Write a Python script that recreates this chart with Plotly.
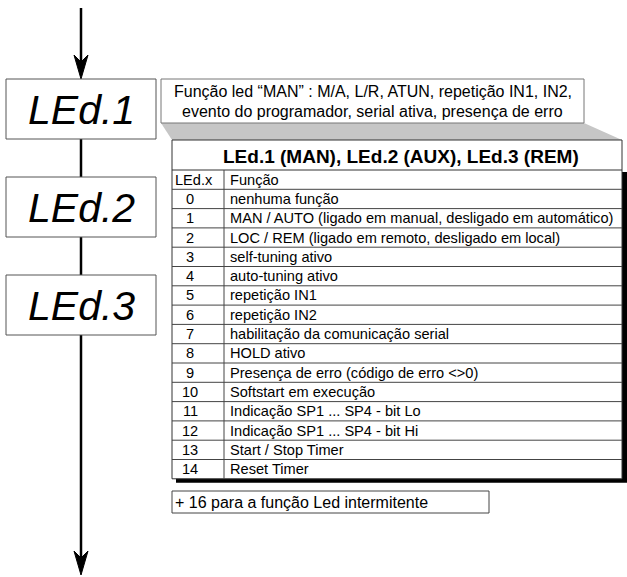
import plotly.graph_objects as go

# ---------------- data ----------------
led_labels = ["LEd.1", "LEd.2", "LEd.3"]
note_lines = [
    "Função led “MAN” : M/A, L/R, ATUN, repetição IN1, IN2,",
    "evento do programador, serial ativa, presença de erro",
]
table_title = "LEd.1 (MAN), LEd.2 (AUX), LEd.3 (REM)"
col_headers = ["LEd.x", "Função"]
codes = ["0", "1", "2", "3", "4", "5", "6", "7", "8", "9", "10", "11", "12", "13", "14"]
functions = [
    "nenhuma função",
    "MAN / AUTO (ligado em manual, desligado em automático)",
    "LOC / REM (ligado em remoto, desligado em local)",
    "self-tuning ativo",
    "auto-tuning ativo",
    "repetição IN1",
    "repetição IN2",
    "habilitação da comunicação serial",
    "HOLD ativo",
    "Presença de erro (código de erro <>0)",
    "Softstart em execução",
    "Indicação SP1 ... SP4 - bit Lo",
    "Indicação SP1 ... SP4 - bit Hi",
    "Start / Stop Timer",
    "Reset Timer",
]
footer_text = "+ 16 para a função Led intermitente"

# ---------------- layout constants ----------------
W, H = 627, 577
FONT = "Liberation Sans, Arial, sans-serif"
AX = 81                     # flow line x
BOX_X0, BOX_X1 = 6, 156
BOX_TOPS = [79, 177, 275]
BOX_H = 60
NOTE = (161, 79, 584, 123)
TBL_X0, TBL_X1 = 172, 622
TBL_TOP, TITLE_BOTTOM = 140, 170
ROW_H = 19.3
COL_SEP = 224
CODE_X = 190
FUNC_X = 228
n_rows = len(codes) + 1
TBL_BOTTOM = TITLE_BOTTOM + ROW_H * n_rows
FOOT = (172, 491, 489, 513)

shapes = []
annotations = []

def line(x0, y0, x1, y1, color="#333", width=1):
    shapes.append(dict(type="line", x0=x0, y0=y0, x1=x1, y1=y1,
                       line=dict(color=color, width=width), layer="above"))

def rect(x0, y0, x1, y1, color="#444", width=1, fill="white"):
    shapes.append(dict(type="rect", x0=x0, y0=y0, x1=x1, y1=y1,
                       line=dict(color=color, width=width), fillcolor=fill, layer="above"))

def text(x, y, s, size=15, anchor="left", bold=False, italic=False, color="black", family=FONT):
    annotations.append(dict(x=x, y=y, xref="x", yref="y", text=s, showarrow=False,
                            xanchor=anchor, yanchor="middle",
                            font=dict(family=family, size=size, color=color,
                                      weight="bold" if bold else "normal",
                                      style="italic" if italic else "normal")))

# flow line and arrows
line(AX, 8, AX, 64, "black", 2.5)
shapes.append(dict(type="path", path=f"M {AX} 79 L {AX-7} 55 L {AX} 62 L {AX+7} 55 Z",
                   fillcolor="black", line=dict(color="black", width=1), layer="above"))
for i in range(len(BOX_TOPS) - 1):
    line(AX, BOX_TOPS[i] + BOX_H, AX, BOX_TOPS[i + 1], "black", 2.5)
line(AX, BOX_TOPS[-1] + BOX_H, AX, 560, "black", 2.5)
shapes.append(dict(type="path", path=f"M {AX} 575 L {AX-7} 551 L {AX} 558 L {AX+7} 551 Z",
                   fillcolor="black", line=dict(color="black", width=1), layer="above"))

# LED display boxes
for top, lab in zip(BOX_TOPS, led_labels):
    rect(BOX_X0, top, BOX_X1, top + BOX_H, "#555", 1)
    text((BOX_X0 + BOX_X1) / 2, top + BOX_H / 2 + 1, lab, size=41, anchor="center",
         italic=True)

# callout connector (grey trapezoid)
shapes.append(dict(type="path",
                   path=f"M {NOTE[0]} {NOTE[3]} L {NOTE[2]} {NOTE[3]} L {TBL_X1} {TBL_TOP} L {TBL_X0} {TBL_TOP} Z",
                   fillcolor="#c6c6c6", line=dict(width=0), layer="above"))
# note box
rect(*NOTE, color="#777", width=1)
text((NOTE[0] + NOTE[2]) / 2, 91, note_lines[0], size=16, anchor="center")
text((NOTE[0] + NOTE[2]) / 2, 111, note_lines[1], size=16, anchor="center")

# table shadow + body
shapes.append(dict(type="rect", x0=TBL_X0 + 4, y0=TITLE_BOTTOM + 2, x1=TBL_X1 + 5, y1=TBL_BOTTOM + 4,
                   fillcolor="black", line=dict(width=0), layer="above"))
rect(TBL_X0, TBL_TOP, TBL_X1, TBL_BOTTOM, "#333", 1)
line(TBL_X0, TITLE_BOTTOM, TBL_X1, TITLE_BOTTOM, "#333", 1)
text((TBL_X0 + TBL_X1) / 2 + 4, (TBL_TOP + TITLE_BOTTOM) / 2 + 1, table_title, size=19,
     anchor="center", bold=True)
for k in range(1, n_rows):
    y = TITLE_BOTTOM + ROW_H * k
    line(TBL_X0, y, TBL_X1, y, "#444", 1)
line(COL_SEP, TITLE_BOTTOM, COL_SEP, TBL_BOTTOM, "#444", 1)

text(TBL_X0 + 1, TITLE_BOTTOM + ROW_H / 2, col_headers[0], size=14.6, anchor="left")
text(FUNC_X, TITLE_BOTTOM + ROW_H / 2, col_headers[1], size=14.6, anchor="left")
for i, (c, f) in enumerate(zip(codes, functions)):
    yc = TITLE_BOTTOM + ROW_H * (i + 1.5)
    text(CODE_X, yc, c, size=14.6, anchor="center")
    text(FUNC_X, yc, f, size=14.6, anchor="left")

# footer note
rect(*FOOT, color="#444", width=1)
text(FOOT[0] + 1, (FOOT[1] + FOOT[3]) / 2, footer_text, size=16, anchor="left")

fig = go.Figure()
fig.update_layout(
    width=W, height=H,
    margin=dict(l=0, r=0, t=0, b=0),
    paper_bgcolor="white", plot_bgcolor="white",
    xaxis=dict(range=[0, W], visible=False, fixedrange=True),
    yaxis=dict(range=[H, 0], visible=False, fixedrange=True),
    shapes=shapes, annotations=annotations, showlegend=False,
)
fig.write_html("out.html", config={"displayModeBar": False},
               post_script="document.body.style.margin='0';")
